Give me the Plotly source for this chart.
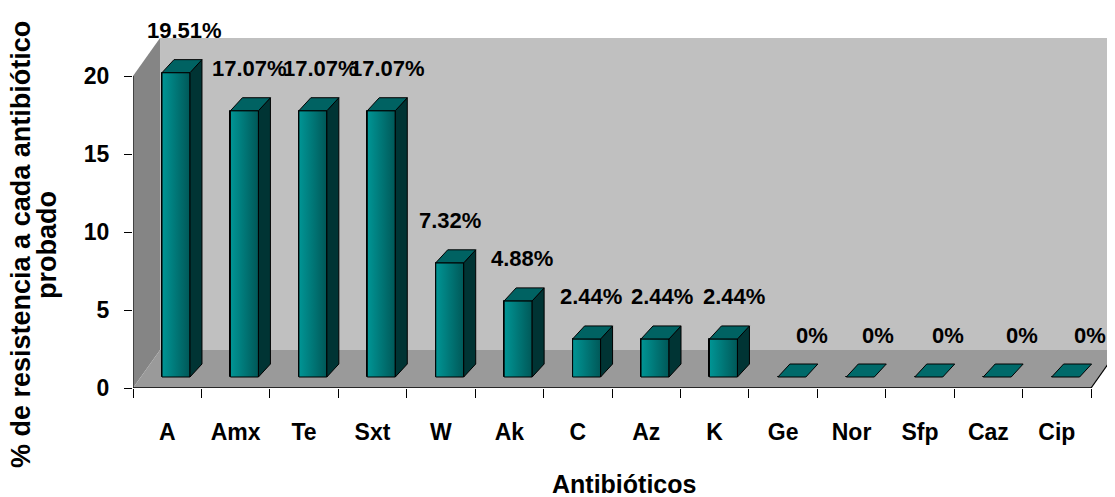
import plotly.graph_objects as go

# ---------------- data ----------------
categories = ["A", "Amx", "Te", "Sxt", "W", "Ak", "C", "Az", "K",
              "Ge", "Nor", "Sfp", "Caz", "Cip"]
values = [19.51, 17.07, 17.07, 17.07, 7.32, 4.88, 2.44, 2.44, 2.44,
          0, 0, 0, 0, 0]
labels = ["19.51%", "17.07%", "17.07%", "17.07%", "7.32%", "4.88%",
          "2.44%", "2.44%", "2.44%", "0%", "0%", "0%", "0%", "0%"]
y_ticks = [0, 5, 10, 15, 20]

# ---------------- 3D-look geometry (axis units) ----------------
WALL_H = 20.0
WALL_DX, WALL_DY = 0.395, 2.44      # depth of floor / walls
BAR_BASE = 0.705                   # bars sit a little behind the front edge
BAR_OFFSET, BAR_WIDTH = -0.076, 0.409
BAR_DX, BAR_DY = 0.175, 0.833      # depth of each bar
LABEL_GAP = 2.69
LABEL_NUDGE = [8, 5, 8, 6, 0, 4, 4, 7, 11, 20, 18, 19, 25, 24]  # px
X_MAX = 13.85
Y_MAX = 23.59

FRONT = "#007b7b"
FRONT_L = "#009595"
FRONT_R = "#005858"
SIDE = "#003434"
TOP = "#006262"
FONT = "Liberation Sans, Arial, sans-serif"

# page body has an 8px default margin: the figure is sized/offset to compensate
W, H = 1107, 489
ML, MT, MB = 125, 12, 109

n = len(categories)
pos = list(range(n))
fig = go.Figure()

fig.add_trace(go.Bar(
    x=pos, y=values, base=BAR_BASE,
    width=BAR_WIDTH, offset=BAR_OFFSET,
    marker=dict(color=FRONT, line=dict(color="black", width=1)),
    hovertext=categories, hoverinfo="text+y", showlegend=False,
))

# gradient overlay on front faces
for i, v in enumerate(values):
    if v <= 0:
        continue
    xl = i + BAR_OFFSET
    xr = xl + BAR_WIDTH
    fig.add_trace(go.Scatter(
        x=[xl, xr, xr, xl, xl], y=[BAR_BASE, BAR_BASE, BAR_BASE + v, BAR_BASE + v, BAR_BASE],
        mode="lines", fill="toself", line=dict(color="black", width=1),
        fillgradient=dict(type="horizontal", colorscale=[[0, FRONT_L], [1, FRONT_R]],
                          start=xl, stop=xr),
        hoverinfo="skip", showlegend=False))

shapes = []
def poly(pts, fill, line_color=None, lw=1, layer="below"):
    d = "M " + " L ".join(f"{x},{y}" for x, y in pts) + " Z"
    shapes.append(dict(type="path", path=d, xref="x", yref="y",
                       fillcolor=fill, layer=layer,
                       line=dict(color=line_color or fill, width=lw if line_color else 0)))

L = -0.5
R = n - 0.5
# back wall
poly([(L + WALL_DX, WALL_DY), (X_MAX + 1, WALL_DY), (X_MAX + 1, WALL_DY + WALL_H),
      (L + WALL_DX, WALL_DY + WALL_H)], "#c0c0c0")
# left wall
poly([(L, 0), (L + WALL_DX, WALL_DY), (L + WALL_DX, WALL_DY + WALL_H), (L, WALL_H)], "#858585")
# floor
poly([(L, 0), (R, 0), (R + WALL_DX, WALL_DY), (L + WALL_DX, WALL_DY)], "#9a9a9a")

# axis / edge lines
shapes.append(dict(type="line", xref="x", yref="y", x0=L, y0=0, x1=R, y1=0,
                   line=dict(color="black", width=1.5), layer="above"))
shapes.append(dict(type="line", xref="x", yref="y", x0=R, y0=0, x1=R + WALL_DX, y1=WALL_DY,
                   line=dict(color="black", width=1.2), layer="above"))
shapes.append(dict(type="line", xref="x", yref="y", x0=L, y0=0, x1=L, y1=WALL_H,
                   line=dict(color="black", width=1), layer="above"))

# bar side and top faces
for i, v in enumerate(values):
    xl = i + BAR_OFFSET
    xr = xl + BAR_WIDTH
    b = BAR_BASE
    t = BAR_BASE + v
    if v > 0:
        poly([(xr, b), (xr + BAR_DX, b + BAR_DY), (xr + BAR_DX, t + BAR_DY), (xr, t)],
             SIDE, "black", 1, "above")
    poly([(xl, t), (xr, t), (xr + BAR_DX, t + BAR_DY), (xl + BAR_DX, t + BAR_DY)],
         TOP if v > 0 else "#006a6a", "black", 1, "above")

annotations = []
for i, (v, lab) in enumerate(zip(values, labels)):
    annotations.append(dict(
        x=i + BAR_OFFSET + BAR_WIDTH / 2, y=BAR_BASE + v + LABEL_GAP,
        xref="x", yref="y", text=lab, showarrow=False,
        xshift=LABEL_NUDGE[i],
        font=dict(family=FONT, size=22, color="black", weight="bold"),
        xanchor="center", yanchor="middle"))

plot_w = W - ML
plot_h = H - MT - MB
# axis titles
annotations.append(dict(text="Antibióticos", xref="paper", yref="paper",
                        x=0.5, y=-(484 - 388) / plot_h, xanchor="center", yanchor="middle",
                        showarrow=False,
                        font=dict(family=FONT, size=25, color="black", weight="bold")))
annotations.append(dict(text="% de resistencia a cada antibiótico", xref="paper", yref="paper",
                        x=(21 - 133) / plot_w, y=(388 - 245) / plot_h, textangle=-90,
                        xanchor="center", yanchor="middle", showarrow=False,
                        font=dict(family=FONT, size=27, color="black", weight="bold")))
annotations.append(dict(text="probado", xref="paper", yref="paper",
                        x=(47 - 133) / plot_w, y=(388 - 245) / plot_h, textangle=-90,
                        xanchor="center", yanchor="middle", showarrow=False,
                        font=dict(family=FONT, size=27, color="black", weight="bold")))

fig.update_layout(
    width=W, height=H,
    margin=dict(l=ML, r=0, t=MT, b=MB),
    paper_bgcolor="white", plot_bgcolor="white",
    shapes=shapes, annotations=annotations,
    bargap=0, showlegend=False,
    xaxis=dict(range=[-0.5, X_MAX], tickmode="array", tickvals=pos, ticktext=categories,
               ticks="outside", ticklen=9, tickcolor="rgba(0,0,0,0)",
               minor=dict(ticks="outside", ticklen=9, tickwidth=1, tickcolor="black",
                          tickmode="linear", tick0=-0.5, dtick=1, showgrid=False),
               showline=False, showgrid=False, zeroline=False,
               ticklabelstandoff=14,
               tickfont=dict(family=FONT, size=23, color="black", weight="bold")),
    yaxis=dict(range=[0, Y_MAX], tickmode="array", tickvals=y_ticks,
               ticks="outside", ticklen=8, tickwidth=1, tickcolor="black",
               showline=False, showgrid=False, zeroline=False,
               ticklabelstandoff=10,
               tickfont=dict(family=FONT, size=23, color="black", weight="bold")),
)

fig.write_html("out.html")
